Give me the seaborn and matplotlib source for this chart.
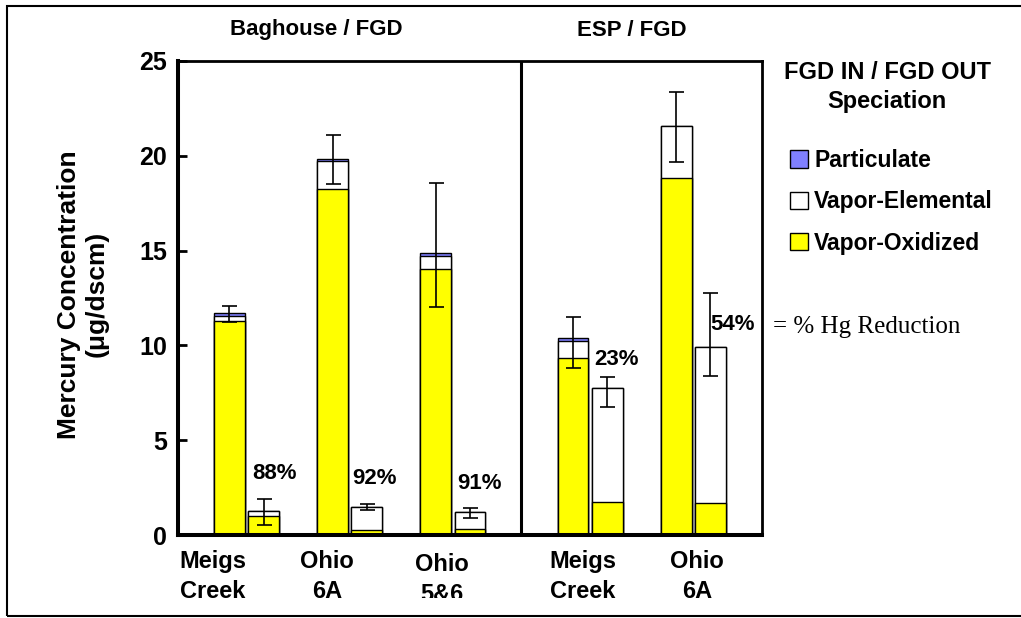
import matplotlib
matplotlib.use("Agg")
import matplotlib.pyplot as plt
import seaborn as sns
import pandas as pd
import numpy as np
from matplotlib.patches import Patch, Rectangle
from matplotlib.transforms import Bbox, blended_transform_factory

# ---- data ---------------------------------------------------------------
plants = ["Meigs\nCreek", "Ohio\n6A", "Ohio\n5&6", "Meigs\nCreek", "Ohio\n6A"]
configs = ["Baghouse / FGD", "ESP / FGD"]
plant_config = [0, 0, 0, 1, 1]
species = ["Particulate", "Vapor-Elemental", "Vapor-Oxidized"]

# one entry per bar, plant by plant: FGD inlet then FGD outlet (µg/dscm)
oxidized = [11.30, 1.00, 18.25, 0.25, 14.01, 0.32, 9.32, 1.74, 18.85, 1.67]
elemental = [0.25, 0.25, 1.48, 1.23, 0.72, 0.88, 0.93, 6.01, 2.72, 8.25]
particulate = [0.14, 0.00, 0.12, 0.00, 0.13, 0.00, 0.16, 0.00, 0.00, 0.00]
err_low = [11.23, 0.51, 18.50, 1.32, 12.04, 0.91, 8.82, 6.75, 19.69, 8.39]
err_high = [12.09, 1.91, 21.08, 1.65, 18.58, 1.41, 11.51, 8.33, 23.35, 12.78]
hg_reduction = [88, 92, 91, 23, 54]

# ---- layout --------------------------------------------------------------
PART_COLOR = "#8080FF"
OXID_COLOR = "#FFFF00"
ELEM_COLOR = "#FFFFFF"

# each plant takes three slots (inlet, outlet, gap); the ESP group sits
# after a divider slot
n_slots = 17
group_start = [1, 11]
plant_start = []
count = [0, 0]
for c in plant_config:
    plant_start.append(group_start[c] + 3 * count[c])
    count[c] += 1
bar_slot = []
for s in plant_start:
    bar_slot += [s, s + 1]
divider = 9.5
label_shift = [-0.98, -0.67, -0.32, -0.21, 0.11]
pct_offset = [(0.32, 1.31), (0.22, 1.35), (0.28, 1.33), (0.28, 0.95), (0.65, -1.70)]
heading_x = [3.52, 12.72]

ox = np.array(oxidized)
el = np.array(elemental)
pa = np.array(particulate)
df = pd.DataFrame({
    "slot": [str(s) for s in bar_slot],
    "total": ox + el + pa,
    "vapor": ox + el,
    "oxidized": ox,
})
order = [str(i) for i in range(n_slots)]

sns.set_theme(style="white")
plt.rcParams["font.family"] = ["Liberation Sans", "DejaVu Sans"]
plt.rcParams["font.weight"] = "bold"
for key in ("text.color", "axes.labelcolor", "xtick.color", "ytick.color",
            "axes.edgecolor"):
    plt.rcParams[key] = "black"

fig = plt.figure(figsize=(10.21, 6.18), dpi=100)
ax = fig.add_axes([0.1743, 0.1343, 0.572, 0.767])

common = dict(data=df, x="slot", order=order, width=0.9, edgecolor="black",
              linewidth=1.0, errorbar=None, saturation=1, ax=ax)
sns.barplot(y="total", color=PART_COLOR, **common)
sns.barplot(y="vapor", color=ELEM_COLOR, **common)
sns.barplot(y="oxidized", color=OXID_COLOR, **common)

lo = np.array(err_low)
hi = np.array(err_high)
ax.errorbar(bar_slot, (lo + hi) / 2, yerr=(hi - lo) / 2, fmt="none",
            ecolor="black", elinewidth=1.2, capsize=5.4, capthick=1.2, zorder=5)

# percent reduction next to each outlet bar
for i, r in enumerate(hg_reduction):
    s = plant_start[i] + 1
    dx, dy = pct_offset[i]
    ax.text(s + dx, err_high[2 * i + 1] + dy, f"{r}%", ha="center", va="center",
            fontsize=16, fontweight="bold", zorder=6)

ax.axvline(divider, color="black", lw=2.2, zorder=4)

ax.set_xlim(-0.5, n_slots - 0.5)
ax.set_ylim(0, 25)
ax.set_yticks(np.arange(0, 26, 5))
ax.tick_params(axis="y", direction="in", length=6.5, width=2, labelsize=18,
               pad=8, colors="black", left=True)
ax.set_xticks([s + 0.5 + d for s, d in zip(plant_start, label_shift)])
ax.set_xticklabels(plants, fontsize=17, fontweight="bold", linespacing=1.38)
ax.tick_params(axis="x", length=0, pad=11, colors="black")
ax.set_xlabel("")
ax.set_ylabel("Mercury Concentration\n(μg/dscm)", fontsize=19,
              fontweight="bold", linespacing=1.2, color="black")
ax.yaxis.set_label_coords(-0.118, 0.508)

for side, lw in (("left", 2.9), ("bottom", 2.9), ("top", 2.0), ("right", 2.0)):
    ax.spines[side].set_visible(True)
    ax.spines[side].set_color("black")
    ax.spines[side].set_linewidth(lw)

# group headings above the plot
head_tf = blended_transform_factory(ax.transData, fig.transFigure)
for c, name in enumerate(configs):
    ax.text(heading_x[c], 1 - 30 / 618, name, transform=head_tf, ha="center",
            va="center", fontsize=16, fontweight="bold")

# legend
handles = [Patch(facecolor=PART_COLOR, edgecolor="black", lw=1.0),
           Patch(facecolor=ELEM_COLOR, edgecolor="black", lw=1.0),
           Patch(facecolor=OXID_COLOR, edgecolor="black", lw=1.0)]
fig.text(887 / 1021, 1 - 87 / 618, "FGD IN / FGD OUT\nSpeciation", ha="center",
         va="center", fontsize=17, fontweight="bold", linespacing=1.33)
fig.legend(handles, species, loc="upper left",
           bbox_to_anchor=(790 / 1021, 1 - 149 / 618), frameon=False,
           prop={"size": 16.5, "weight": "bold"}, handlelength=0.8,
           handleheight=0.8, handletextpad=0.25, labelspacing=0.80,
           borderpad=0, borderaxespad=0)

fig.text(773 / 1021, 1 - 327 / 618, "= % Hg Reduction", ha="left", va="center",
         fontsize=18, fontweight="normal", family="Liberation Serif")

# outer frame (open on the right)
fig.patches.append(Rectangle((7 / 1021, 2 / 618), 1.2, 610 / 618, fill=False,
                             edgecolor="black", lw=1.5,
                             transform=fig.transFigure, figure=fig))

# the lower line of the last Baghouse label runs past the bottom margin
fig.canvas.draw()
for tl in ax.get_xticklabels():
    if "5&6" in tl.get_text():
        tl.set_y(-0.006)
        tl.set_clip_on(True)
        tl.set_clip_box(Bbox.from_extents(0, 618 - 598, 1021, 618))

fig.savefig("out.png", dpi=100)
